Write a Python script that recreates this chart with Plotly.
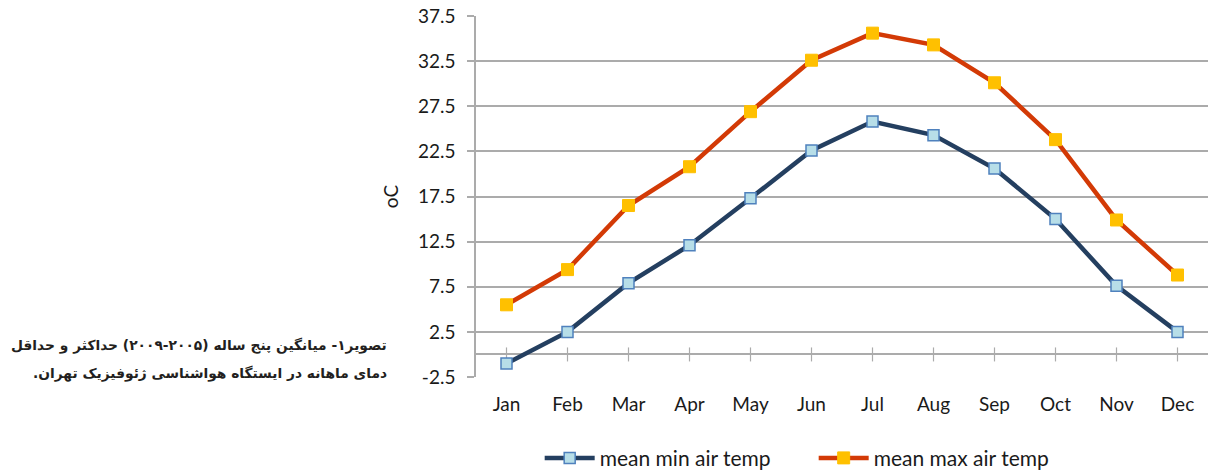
import plotly.graph_objects as go

months = ["Jan", "Feb", "Mar", "Apr", "May", "Jun", "Jul", "Aug", "Sep", "Oct", "Nov", "Dec"]
mean_min = [-1.0, 2.5, 7.9, 12.1, 17.3, 22.6, 25.8, 24.3, 20.6, 15.0, 7.6, 2.5]
mean_max = [5.5, 9.4, 16.5, 20.8, 26.9, 32.6, 35.6, 34.3, 30.1, 23.8, 14.9, 8.8]
y_ticks = [-2.5, 2.5, 7.5, 12.5, 17.5, 22.5, 27.5, 32.5, 37.5]
caption = ["\u200fتصویر۱- میانگین پنج ساله (۲۰۰۵-۲۰۰۹) حداکثر و حداقل\u200f",
           "\u200fدمای ماهانه در ایستگاه هواشناسی ژئوفیزیک تهران.\u200f"]

grid_col = "#ABABAB"
font_fam = "Lato, 'Open Sans', sans-serif"

fig = go.Figure()

# crossing tick marks on the x-axis line (at y = 0)
fig.add_trace(go.Scatter(
    x=months, y=[0] * len(months), mode="markers", showlegend=False, hoverinfo="skip",
    marker=dict(symbol="line-ns", size=10, line=dict(color=grid_col, width=1.2)),
))

fig.add_trace(go.Scatter(
    x=months, y=mean_min, mode="lines+markers", name="mean min air temp",
    line=dict(color="#243F60", width=4.5),
    marker=dict(symbol="square", size=11, color="#B7DEE8", line=dict(color="#4F81BD", width=1.5)),
))
fig.add_trace(go.Scatter(
    x=months, y=mean_max, mode="lines+markers", name="mean max air temp",
    line=dict(color="#D33A06", width=4.5),
    marker=dict(symbol="square", size=12, color="#FFC000", line=dict(color="#FFC000", width=1)),
))

fig.update_layout(
    width=1208, height=470,
    margin=dict(l=476, r=0, t=16, b=93, autoexpand=False),
    paper_bgcolor="white", plot_bgcolor="white",
    font=dict(family=font_fam, size=19, color="#1A1A1A"),
    showlegend=True,
    legend=dict(orientation="h", x=0.087, xanchor="left", y=-0.225, yanchor="middle",
                font=dict(size=21, color="#1A1A1A"), itemwidth=50, tracegroupgap=0,
                entrywidth=209),
    xaxis=dict(range=[-0.5, 11.5], showgrid=False, showline=False, ticks="",
               ticklabelstandoff=14, tickfont=dict(size=19), zeroline=False, automargin=False),
    yaxis=dict(range=[-2.5, 37.5], tickvals=y_ticks, ticktext=[str(v) for v in y_ticks],
               showgrid=True, gridcolor=grid_col, gridwidth=1.5,
               showline=True, linecolor=grid_col, linewidth=1.5,
               ticks="outside", ticklen=7, tickcolor=grid_col, tickwidth=1.5,
               ticklabelstandoff=8, automargin=False,
               zeroline=True, zerolinecolor=grid_col, zerolinewidth=1.5,
               title=dict(text="oC", font=dict(size=19), standoff=14),
               tickfont=dict(size=19)),
)

for i, (txt, yp) in enumerate(zip(caption, [345, 373])):
    fig.add_annotation(
        text="<b>" + txt + "</b>",
        xref="paper", yref="paper", x=(389 - 476) / 732, y=(377 - yp) / 361,
        xanchor="right", yanchor="middle", align="right", showarrow=False,
        font=dict(family="'DejaVu Sans', 'Noto Sans', sans-serif", size=13.8, color="#231F20"),
    )

fig.write_html("out.html", post_script="document.body.style.margin='0';",
               config={"displayModeBar": False})
